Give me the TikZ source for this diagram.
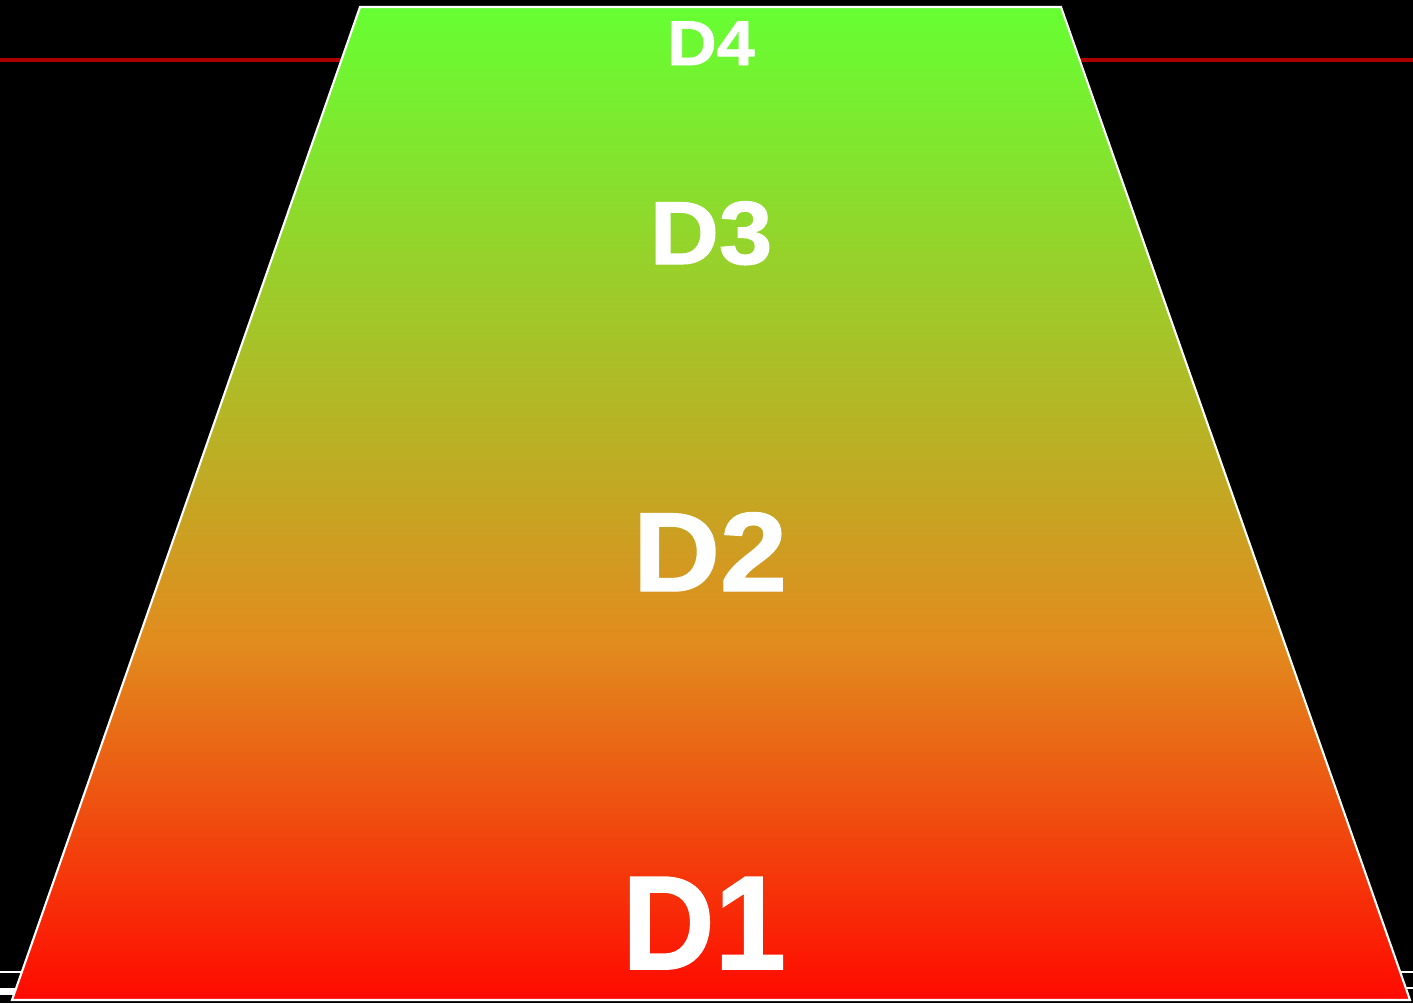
\documentclass[tikz,border=0pt]{standalone}
\usepackage{fontspec}
\setmainfont{Liberation Sans}
\newfontfamily\heavyfont{Liberation Sans Bold}[FakeBold=1.2]

\definecolor{topgreen}{RGB}{102,255,51}
\definecolor{midorange}{RGB}{225,140,30}
\definecolor{botred}{RGB}{255,10,0}
\definecolor{darkline}{RGB}{170,0,0}

\pgfdeclareverticalshading{trapfill}{100bp}{color(0bp)=(botred); color(25bp)=(botred); color(43bp)=(midorange); color(75bp)=(topgreen); color(100bp)=(topgreen)}

\tikzset{label/.style={text=white, inner sep=0pt, anchor=base, font=\heavyfont}}

\begin{document}
\begin{tikzpicture}[x=0.01cm, y=-0.01cm]

\fill[black](0,0) rectangle (1413,1003);
\useasboundingbox(0,0) rectangle (1413,1003);

% lines behind the trapezoid
\draw[darkline, line width=1.1pt](0,60)--(1413,60);
\draw[white, line width=0.45pt](0,972)--(1413,972);
\draw[white, line width=1.9pt](0,991.5)--(700,991.5);
\draw[white, line width=0.8pt](700,988)--(1413,988);

% trapezoid
\draw[white, line width=0.6pt, shading=trapfill](360,7)--(1061,7)--(1410,1000)--(12,1000)--cycle;

% labels
\draw(711,65)node[label, font=\heavyfont\fontsize{18}{18}\selectfont, xscale=1.08](d4){D4};
\draw(711,264)node[label, font=\heavyfont\fontsize{25.5}{25.5}\selectfont, xscale=1.07](d3){D3};
\draw(710,591)node[label, font=\heavyfont\fontsize{32}{32}\selectfont, xscale=1.07](d2){D2};
\draw(704,969)node[label, font=\heavyfont\fontsize{38}{38}\selectfont, xscale=0.96](d1){D1};

\end{tikzpicture}
\end{document}
